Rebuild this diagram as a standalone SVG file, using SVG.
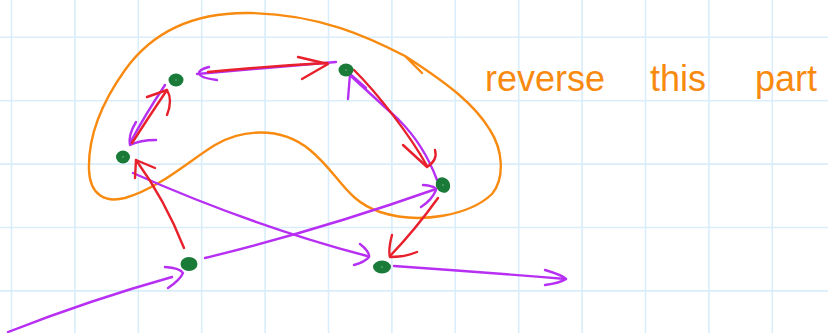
<svg xmlns="http://www.w3.org/2000/svg" width="828" height="333" viewBox="0 0 828 333">
<style>
.grid line{stroke:#d9edfb;stroke-width:1.6}
.p{fill:none;stroke:#b72ff3;stroke-width:2.4;stroke-linecap:round;stroke-linejoin:round}
.r{fill:none;stroke:#e8202b;stroke-width:2.4;stroke-linecap:round;stroke-linejoin:round}
.o{fill:none;stroke:#f88a10;stroke-width:2.4;stroke-linecap:round;stroke-linejoin:round}
.n{fill:#1a7a38}
.c{fill:#7fb894}
.t{fill:#f88a10;font-family:"Liberation Sans",Arial,sans-serif;font-size:36px}
</style>
<rect width="828" height="333" fill="#ffffff"/>
<g class="grid">
<line x1="11.5" y1="0" x2="11.5" y2="333"/>
<line x1="74.9" y1="0" x2="74.9" y2="333"/>
<line x1="138.3" y1="0" x2="138.3" y2="333"/>
<line x1="201.7" y1="0" x2="201.7" y2="333"/>
<line x1="265.1" y1="0" x2="265.1" y2="333"/>
<line x1="328.5" y1="0" x2="328.5" y2="333"/>
<line x1="391.9" y1="0" x2="391.9" y2="333"/>
<line x1="455.3" y1="0" x2="455.3" y2="333"/>
<line x1="518.7" y1="0" x2="518.7" y2="333"/>
<line x1="582.1" y1="0" x2="582.1" y2="333"/>
<line x1="645.5" y1="0" x2="645.5" y2="333"/>
<line x1="708.9" y1="0" x2="708.9" y2="333"/>
<line x1="772.3" y1="0" x2="772.3" y2="333"/>
<line x1="0" y1="37.3" x2="828" y2="37.3"/>
<line x1="0" y1="100.7" x2="828" y2="100.7"/>
<line x1="0" y1="164.1" x2="828" y2="164.1"/>
<line x1="0" y1="227.5" x2="828" y2="227.5"/>
<line x1="0" y1="290.9" x2="828" y2="290.9"/>
</g>
<g id="loop">
<path class="o" d="M422,73 L405,56 C370,38 320,14 250,13 C190,12 150,35 125,70 C100,105 88,140 89,170 C90,195 105,203 125,198 C160,188 190,160 215,145 C240,130 280,125 310,150 C340,175 345,200 380,212 C420,225 470,215 492,194 C505,178 503,150 490,130 C475,105 450,85 405,56"/>
</g>
<g id="label">
<text class="t" y="91"><tspan x="485">reverse</tspan><tspan x="650">this</tspan><tspan x="755">part</tspan></text>
</g>
<g id="connectors">
<path class="p" d="M336,62 Q270,68 197,74"/>
<path class="p" d="M209,67 C196,70 193,77 217,80"/>
<path class="r" d="M208,72 Q270,66 327,63"/>
<path class="r" d="M298,57 L328,64 L302,79"/>
<path class="p" d="M165,85 Q145,115 130,143"/>
<path class="p" d="M136,122 Q128,135 130,145 Q140,140 156,140"/>
<path class="r" d="M132,143 Q150,115 167,90"/>
<path class="r" d="M147,97 L167,90 Q173,100 167,115"/>
<path class="p" d="M437,180 Q424,145 399,120 Q374,97 352,77"/>
<path class="p" d="M348,99 L350,74 L366,88"/>
<path class="r" d="M354,70 C378,94 410,135 427,166"/>
<path class="r" d="M403,145 L427,167 Q438,160 435,150"/>
<path class="p" d="M133,173 Q250,225 367,256"/>
<path class="p" d="M360,244 Q370,252 369,257 Q365,262 354,265"/>
<path class="r" d="M184,248 Q165,200 136,160"/>
<path class="r" d="M135,178 L136,160 L155,168"/>
<path class="p" d="M205,258 Q320,230 436,189"/>
<path class="p" d="M423,185 Q436,186 436,190 Q432,200 421,207"/>
<path class="r" d="M438,198 Q415,230 390,256"/>
<path class="r" d="M392,235 Q388,250 390,257 Q405,257 417,252"/>
<path class="p" d="M8,332 Q90,300 172,277"/>
<path class="p" d="M165,267 Q180,268 183,273 Q180,280 168,288"/>
<path class="p" d="M394,266 Q480,272 566,279"/>
<path class="p" d="M545,270 Q562,275 566,279 Q560,283 545,285"/>
</g>
<g id="nodeA"><ellipse class="n" cx="176" cy="80" rx="7.5" ry="6.5"/><circle class="c" cx="176" cy="80" r="0.8"/></g>
<g id="nodeB"><ellipse class="n" cx="346" cy="70" rx="7.5" ry="6.5"/><circle class="c" cx="346" cy="70" r="0.8"/></g>
<g id="nodeC"><ellipse class="n" cx="123" cy="157" rx="7" ry="6.5"/><circle class="c" cx="123" cy="157" r="0.8"/></g>
<g id="nodeD"><ellipse class="n" cx="443" cy="185" rx="7" ry="8" transform="rotate(-30 443 185)"/><circle class="c" cx="443" cy="185" r="0.8"/></g>
<g id="nodeE"><ellipse class="n" cx="189" cy="264" rx="8.5" ry="7"/></g>
<g id="nodeF"><ellipse class="n" cx="382" cy="267" rx="9" ry="6.5"/><circle class="c" cx="382" cy="267" r="0.8"/></g>
</svg>
